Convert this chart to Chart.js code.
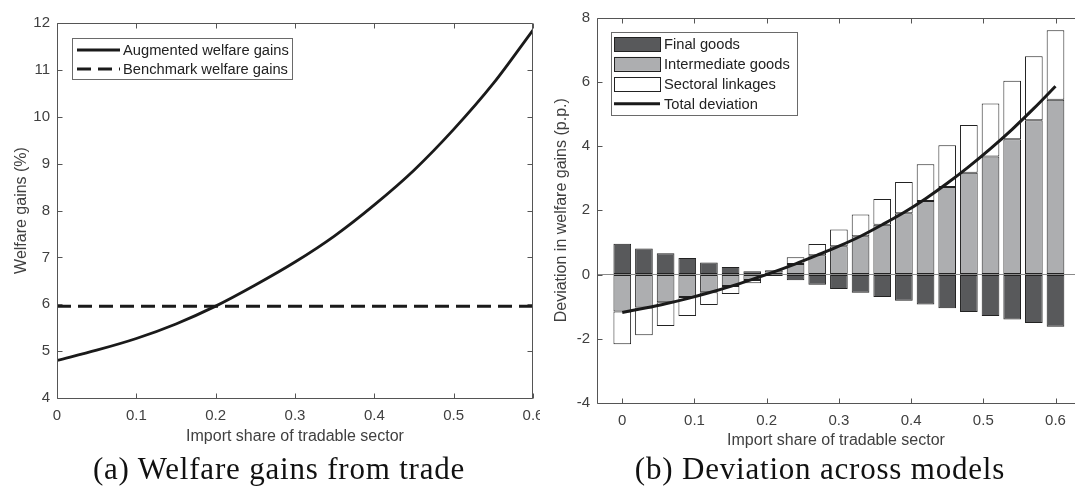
<!DOCTYPE html>
<html>
<head>
<meta charset="utf-8">
<script src="https://cdn.jsdelivr.net/npm/chart.js@4.4.0/dist/chart.umd.min.js"></script>
<style>
  html, body { margin: 0; padding: 0; background: #fff; }
  #wrap { position: relative; width: 1075px; height: 495px; overflow: hidden; }
  canvas { position: absolute; top: 0; }
  #leftChart { left: 0; }
  #rightChart { left: 540px; }
  .caption {
    position: absolute; top: 451px; line-height: 36px;
    font-family: "Liberation Serif", serif; font-size: 31px; letter-spacing: 0.8px;
    color: #111; white-space: nowrap; transform: translateX(-50%);
  }
</style>
</head>
<body>
<div id="wrap">
  <canvas id="leftChart" width="540" height="455"></canvas>
  <canvas id="rightChart" width="535" height="455"></canvas>
  <div class="caption" style="left:279px">(a) Welfare gains from trade</div>
  <div class="caption" style="left:820px">(b) Deviation across models</div>
</div>
<script>
// (a) 貿易の厚生利得
const shareLine = [0, 0.05, 0.1, 0.15, 0.2, 0.25, 0.3, 0.35, 0.4, 0.45, 0.5, 0.55, 0.6];
const augmentedGains = [4.80, 5.02, 5.27, 5.58, 5.96, 6.41, 6.90, 7.46, 8.12, 8.86, 9.73, 10.71, 11.85];
const benchmarkShare = [0, 0.6];
const benchmarkGains = [5.96, 5.96];
const leftYTicks = [4, 5, 6, 7, 8, 9, 10, 11, 12];

// (b) モデル間の乖離
const shareBars = [0, 0.03, 0.06, 0.09, 0.12, 0.15, 0.18, 0.21, 0.24, 0.27, 0.3,
                   0.33, 0.36, 0.39, 0.42, 0.45, 0.48, 0.51, 0.54, 0.57, 0.6];
const finalGoods = [0.96, 0.81, 0.66, 0.51, 0.37, 0.23, 0.10, -0.05, -0.18, -0.32, -0.45,
                    -0.57, -0.70, -0.82, -0.93, -1.05, -1.17, -1.29, -1.40, -1.51, -1.63];
const intermediateGoods = [-1.15, -1.03, -0.86, -0.70, -0.55, -0.36, -0.17, 0.06, 0.33, 0.60, 0.88,
                           1.19, 1.55, 1.91, 2.29, 2.72, 3.17, 3.67, 4.21, 4.80, 5.44];
const sectoralLinkages = [-1.02, -0.86, -0.74, -0.59, -0.40, -0.25, -0.10, 0.07, 0.21, 0.35, 0.52,
                          0.68, 0.80, 0.97, 1.14, 1.30, 1.48, 1.65, 1.82, 1.99, 2.16];
const totalDeviation = [-1.18, -1.05, -0.91, -0.75, -0.57, -0.37, -0.15, 0.08, 0.33, 0.60, 0.88,
                        1.19, 1.55, 1.93, 2.36, 2.84, 3.36, 3.92, 4.52, 5.17, 5.86];
const rightYTicks = [-4, -2, 0, 2, 4, 6, 8];

// 共通
const xTicks = [0, 0.1, 0.2, 0.3, 0.4, 0.5, 0.6];
const xTickLabels = ['0', '0.1', '0.2', '0.3', '0.4', '0.5', '0.6'];
const xTitle = 'Import share of tradable sector';

const AXIS_COLOR = '#555';
const TEXT_COLOR = '#404040';
Chart.defaults.font.family = '"Liberation Sans", Arial, sans-serif';
Chart.defaults.color = TEXT_COLOR;

const toPoints = (xs, ys) => xs.map((x, i) => ({ x: x, y: ys[i] }));
const fixedTicks = values => scale => { scale.ticks = values.map(v => ({ value: v })); };

// MATLAB風の枠と内向きの目盛り
const axisBox = {
    id: 'axisBox',
    afterDraw(chart, args, opts) {
        const { ctx, chartArea: a, scales: { x, y } } = chart;
        const L = Math.round(a.left) + 0.5, R = Math.round(a.right) - 0.5;
        const T = Math.round(a.top) + 0.5, B = Math.round(a.bottom) + 0.5;
        const len = 5;
        ctx.save();
        ctx.strokeStyle = AXIS_COLOR;
        ctx.lineWidth = 1;
        ctx.beginPath();
        ctx.moveTo(L, T); ctx.lineTo(opts.right ? R : a.right, T);
        ctx.moveTo(L, T); ctx.lineTo(L, B); ctx.lineTo(opts.right ? R : a.right, B);
        if (opts.right) { ctx.moveTo(R, T); ctx.lineTo(R, B); }
        x.ticks.forEach(t => {
            const px = Math.round(x.getPixelForValue(t.value)) + 0.5;
            ctx.moveTo(px, B); ctx.lineTo(px, B - len);
            ctx.moveTo(px, T); ctx.lineTo(px, T + len);
        });
        y.ticks.forEach(t => {
            const py = Math.round(y.getPixelForValue(t.value)) + 0.5;
            ctx.moveTo(L, py); ctx.lineTo(L + len, py);
            if (opts.right) { ctx.moveTo(R, py); ctx.lineTo(R - len, py); }
        });
        ctx.stroke();
        ctx.restore();
    }
};

// 枠付き凡例（キャンバス内の座標）
const boxLegend = {
    id: 'boxLegend',
    afterDraw(chart, args, o) {
        const ctx = chart.ctx;
        ctx.save();
        ctx.fillStyle = '#fff';
        ctx.fillRect(o.x, o.y, o.w, o.h);
        ctx.strokeStyle = '#6a6a6a';
        ctx.lineWidth = 1;
        ctx.strokeRect(o.x + 0.5, o.y + 0.5, o.w, o.h);
        ctx.font = '14.7px "Liberation Sans", Arial, sans-serif';
        ctx.textBaseline = 'middle';
        chart.data.datasets.forEach((ds, i) => {
            const cy = o.row0 + i * o.rowGap;
            if (ds.type === 'line') {
                ctx.strokeStyle = ds.borderColor;
                ctx.lineWidth = ds.borderWidth;
                ctx.setLineDash(ds.borderDash || []);
                ctx.beginPath();
                ctx.moveTo(o.sx, cy); ctx.lineTo(o.sx + o.sw, cy);
                ctx.stroke();
                ctx.setLineDash([]);
            } else {
                ctx.fillStyle = ds.backgroundColor;
                ctx.fillRect(o.sx, cy - o.ph / 2, o.sw, o.ph);
                ctx.strokeStyle = ds.borderColor;
                ctx.lineWidth = 1;
                ctx.strokeRect(Math.round(o.sx) + 0.5, Math.round(cy - o.ph / 2) + 0.5, o.sw, o.ph);
            }
            ctx.fillStyle = '#222';
            ctx.fillText(ds.label, o.tx, cy + 1);
        });
        ctx.restore();
    }
};

function xScale(min, max, height, tickPad, titlePad) {
    return {
        type: 'linear', min: min, max: max, stacked: true, offset: false,
        afterBuildTicks: fixedTicks(xTicks),
        afterFit: s => { s.height = height; s.paddingLeft = 0; s.paddingRight = 0; },
        grid: { display: false, drawTicks: false },
        border: { display: false },
        ticks: {
            autoSkip: false, maxRotation: 0, padding: tickPad,
            font: { size: 15 }, color: TEXT_COLOR,
            callback: (v, i) => xTickLabels[i]
        },
        title: { display: true, text: xTitle, font: { size: 16 }, color: TEXT_COLOR, padding: { top: 0, bottom: titlePad } }
    };
}

function yScale(min, max, ticks, title, titlePad, gridColor) {
    return {
        min: min, max: max, stacked: true,
        afterBuildTicks: fixedTicks(ticks),
        afterFit: s => { s.width = 57; s.paddingTop = 0; s.paddingBottom = 0; },
        grid: { drawTicks: false, color: gridColor, lineWidth: 1 },
        border: { display: false },
        ticks: { padding: 7, font: { size: 15 }, color: TEXT_COLOR },
        title: { display: true, text: title, font: { size: 16 }, color: TEXT_COLOR, padding: { top: titlePad, bottom: 0 } }
    };
}

new Chart(document.getElementById('leftChart'), {
    type: 'line',
    data: {
        datasets: [
            {
                type: 'line', label: 'Augmented welfare gains',
                data: toPoints(shareLine, augmentedGains),
                borderColor: '#1a1a1a', borderWidth: 2.8, pointRadius: 0,
                cubicInterpolationMode: 'monotone', stack: 'a'
            },
            {
                type: 'line', label: 'Benchmark welfare gains',
                data: toPoints(benchmarkShare, benchmarkGains),
                borderColor: '#1a1a1a', borderWidth: 3, borderDash: [14, 7], pointRadius: 0, stack: 'b'
            }
        ]
    },
    options: {
        responsive: false, animation: false,
        layout: { padding: { top: 23, left: 0, right: 7, bottom: 0 } },
        scales: {
            x: xScale(0, 0.6, 57, 9, 9),
            y: Object.assign(yScale(4, 12, leftYTicks, 'Welfare gains (%)', 12, 'transparent'), { stacked: false })
        },
        plugins: {
            legend: { display: false }, tooltip: { enabled: false },
            axisBox: { right: true },
            boxLegend: { x: 72, y: 38, w: 220, h: 41, row0: 50, rowGap: 19, sx: 77, sw: 43, ph: 0, tx: 123 }
        }
    },
    plugins: [axisBox, boxLegend]
});

const barStyle = { type: 'bar', stack: 'bars', borderColor: '#222', borderWidth: 1, borderSkipped: false,
                   categoryPercentage: 1, barPercentage: 0.815, order: 1 };

new Chart(document.getElementById('rightChart'), {
    type: 'bar',
    data: {
        datasets: [
            Object.assign({ label: 'Final goods', data: toPoints(shareBars, finalGoods), backgroundColor: '#58595b' }, barStyle),
            Object.assign({ label: 'Intermediate goods', data: toPoints(shareBars, intermediateGoods), backgroundColor: '#adaeb0' }, barStyle),
            Object.assign({ label: 'Sectoral linkages', data: toPoints(shareBars, sectoralLinkages), backgroundColor: '#ffffff' }, barStyle),
            {
                type: 'line', label: 'Total deviation', stack: 'total', order: 0,
                data: toPoints(shareBars, totalDeviation),
                borderColor: '#1a1a1a', borderWidth: 3, pointRadius: 0, cubicInterpolationMode: 'monotone'
            }
        ]
    },
    options: {
        responsive: false, animation: false,
        layout: { padding: { top: 17.5, left: 0, right: 0, bottom: 0 } },
        scales: {
            x: xScale(-0.035, 0.627, 52, 9, 5),
            y: yScale(-4, 8, rightYTicks, 'Deviation in welfare gains (p.p.)', 12,
                      c => c.tick && c.tick.value === 0 ? '#8a8a8a' : 'transparent')
        },
        plugins: {
            legend: { display: false }, tooltip: { enabled: false },
            axisBox: { right: false },
            boxLegend: { x: 71, y: 32, w: 186, h: 83, row0: 44, rowGap: 19.9, sx: 74, sw: 46, ph: 14, tx: 124 }
        }
    },
    plugins: [axisBox, boxLegend]
});
</script>
</body>
</html>
